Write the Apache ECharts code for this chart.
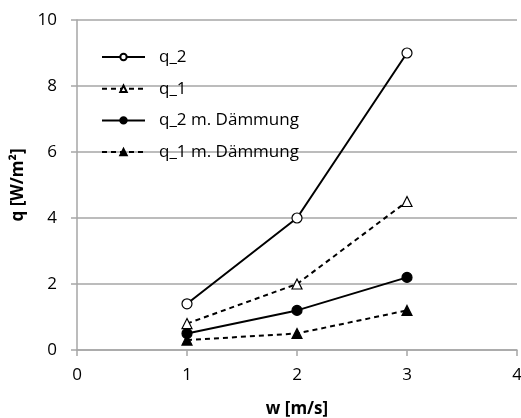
<!DOCTYPE html>
<html><head><meta charset="utf-8">
<script src="https://cdn.jsdelivr.net/npm/echarts@6/dist/echarts.min.js"></script>
<style>html,body{margin:0;padding:0;background:#fff}#c{width:521px;height:418px}</style>
</head><body><div id="c"></div>
<script>
const xValues = [1, 2, 3];
const q2 = [1.4, 4, 9];
const q1 = [0.8, 2, 4.5];
const q2D = [0.5, 1.2, 2.2];
const q1D = [0.3, 0.5, 1.2];
const seriesNames = ['q_2', 'q_1', 'q_2 m. Dämmung', 'q_1 m. Dämmung'];
const FONT = '"Open Sans", "Liberation Sans", sans-serif';
const FS = 17;
const pairs = a => xValues.map((x, i) => [x, a[i]]);
function mk(name, data, dashed, symbol, fill) {
  return {
    name, type: 'line', data: pairs(data), symbol, symbolSize: 10,
    lineStyle: { color: '#000', width: 2, type: dashed ? [5, 4] : 'solid' },
    itemStyle: { color: fill, borderColor: '#000', borderWidth: 1.2 },
    emphasis: { disabled: true }, animation: false, z: 3
  };
}
const chart = echarts.init(document.getElementById('c'));
chart.setOption({
  animation: false,
  grid: { left: 77, right: 4, top: 20, bottom: 68, containLabel: false, outerBoundsMode: 'none' },
  legend: {
    orient: 'vertical', left: 96, top: 41, itemGap: 9.7, itemWidth: 43, itemHeight: 8,
    textStyle: { fontFamily: FONT, fontSize: FS, color: '#000', lineHeight: 22, padding: [0, 0, 0, 9] },
    data: seriesNames
  },
  xAxis: {
    type: 'value', min: 0, max: 4, interval: 1,
    name: 'w [m/s]', nameLocation: 'middle', nameGap: 51,
    nameTextStyle: { fontFamily: FONT, fontSize: FS, fontWeight: 'bold', color: '#000' },
    axisLine: { lineStyle: { color: '#a6a6a6', width: 1.5 } },
    axisTick: { show: true, length: 6, lineStyle: { color: '#a6a6a6', width: 1.5 } },
    axisLabel: { fontFamily: FONT, fontSize: FS, color: '#000', margin: 17 },
    splitLine: { show: false }
  },
  yAxis: {
    type: 'value', min: 0, max: 10, interval: 2,
    name: 'q [W/m²]', nameLocation: 'middle', nameGap: 49, nameRotate: 90,
    nameTextStyle: { fontFamily: FONT, fontSize: FS, fontWeight: 'bold', color: '#000' },
    axisLine: { show: true, lineStyle: { color: '#a6a6a6', width: 1.5 } },
    axisTick: { show: true, length: 6, lineStyle: { color: '#a6a6a6', width: 1.5 } },
    axisLabel: { fontFamily: FONT, fontSize: FS, color: '#000', margin: 20 },
    splitLine: { lineStyle: { color: '#a6a6a6', width: 1.5 } }
  },
  series: [
    mk(seriesNames[0], q2, false, 'circle', '#fff'),
    mk(seriesNames[1], q1, true, 'triangle', '#fff'),
    mk(seriesNames[2], q2D, false, 'circle', '#000'),
    mk(seriesNames[3], q1D, true, 'triangle', '#000')
  ]
});
</script></body></html>
